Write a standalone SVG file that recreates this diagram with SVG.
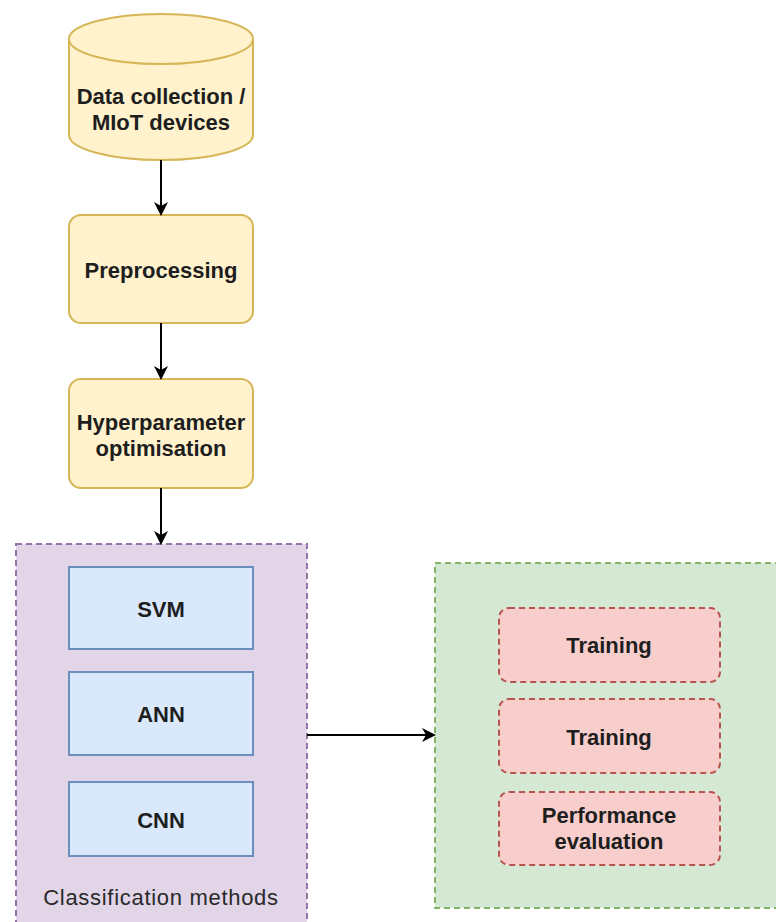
<svg xmlns="http://www.w3.org/2000/svg" width="776" height="922" viewBox="0 0 776 922">
<style>
text{font-family:"Liberation Sans",Arial,sans-serif;font-size:22px;font-weight:bold;fill:#1e1e1e;text-anchor:middle;dominant-baseline:central}
.lbl{font-weight:normal;letter-spacing:0.7px;fill:#2a2a2a}
.y{fill:#fff2cc;stroke:#d6b656;stroke-width:2}
.b{fill:#dae8fc;stroke:#6c8ebf;stroke-width:2}
.r{fill:#f8cecc;stroke:#b85450;stroke-width:2;stroke-dasharray:6 4}
.c{fill:none;stroke:#000;stroke-width:2}
</style>
<defs>
<marker id="ah" markerWidth="14" markerHeight="14" refX="12" refY="7" orient="auto" markerUnits="userSpaceOnUse">
<path d="M0,0 L14,7 L0,14 L4,7 Z" fill="#000"/>
</marker>
</defs>
<rect width="776" height="922" fill="#fff"/>
<g id="classification">
<rect x="16" y="544" width="291" height="390" fill="#e1d5e7" stroke="#9673a6" stroke-width="2" stroke-dasharray="6 4"/>
<text class="lbl" x="161" y="897">Classification methods</text>
</g>
<g id="evaluation-group">
<rect x="435" y="563" width="360" height="345" fill="#d5e8d4" stroke="#82b366" stroke-width="2" stroke-dasharray="6 4"/>
</g>
<g id="data">
<path class="y" d="M69,39 A92,25 0 0 1 253,39 L253,135 A92,25 0 0 1 69,135 Z"/>
<path d="M69,39 A92,25 0 0 0 253,39" fill="none" stroke="#d6b656" stroke-width="2"/>
<text x="161" y="96">Data collection /</text>
<text x="161" y="122">MIoT devices</text>
</g>
<g id="preprocessing">
<rect class="y" x="69" y="215" width="184" height="108" rx="12"/>
<text x="161" y="270">Preprocessing</text>
</g>
<g id="hyper">
<rect class="y" x="69" y="379" width="184" height="109" rx="12"/>
<text x="161" y="422">Hyperparameter</text>
<text x="161" y="448">optimisation</text>
</g>
<g id="svm">
<rect class="b" x="69" y="567" width="184" height="82"/>
<text x="161" y="609">SVM</text>
</g>
<g id="ann">
<rect class="b" x="69" y="672" width="184" height="83"/>
<text x="161" y="714">ANN</text>
</g>
<g id="cnn">
<rect class="b" x="69" y="782" width="184" height="74"/>
<text x="161" y="820">CNN</text>
</g>
<g id="training1">
<rect class="r" x="499" y="608" width="221" height="74" rx="10"/>
<text x="609" y="645">Training</text>
</g>
<g id="training2">
<rect class="r" x="499" y="699" width="221" height="74" rx="10"/>
<text x="609" y="737">Training</text>
</g>
<g id="performance">
<rect class="r" x="499" y="792" width="221" height="73" rx="10"/>
<text x="609" y="815">Performance</text>
<text x="609" y="841">evaluation</text>
</g>
<g id="connectors">
<line class="c" x1="161" y1="160" x2="161" y2="214" marker-end="url(#ah)"/>
<line class="c" x1="161" y1="323" x2="161" y2="378" marker-end="url(#ah)"/>
<line class="c" x1="161" y1="488" x2="161" y2="543" marker-end="url(#ah)"/>
<line class="c" x1="307" y1="735" x2="434" y2="735" marker-end="url(#ah)"/>
</g>
</svg>
